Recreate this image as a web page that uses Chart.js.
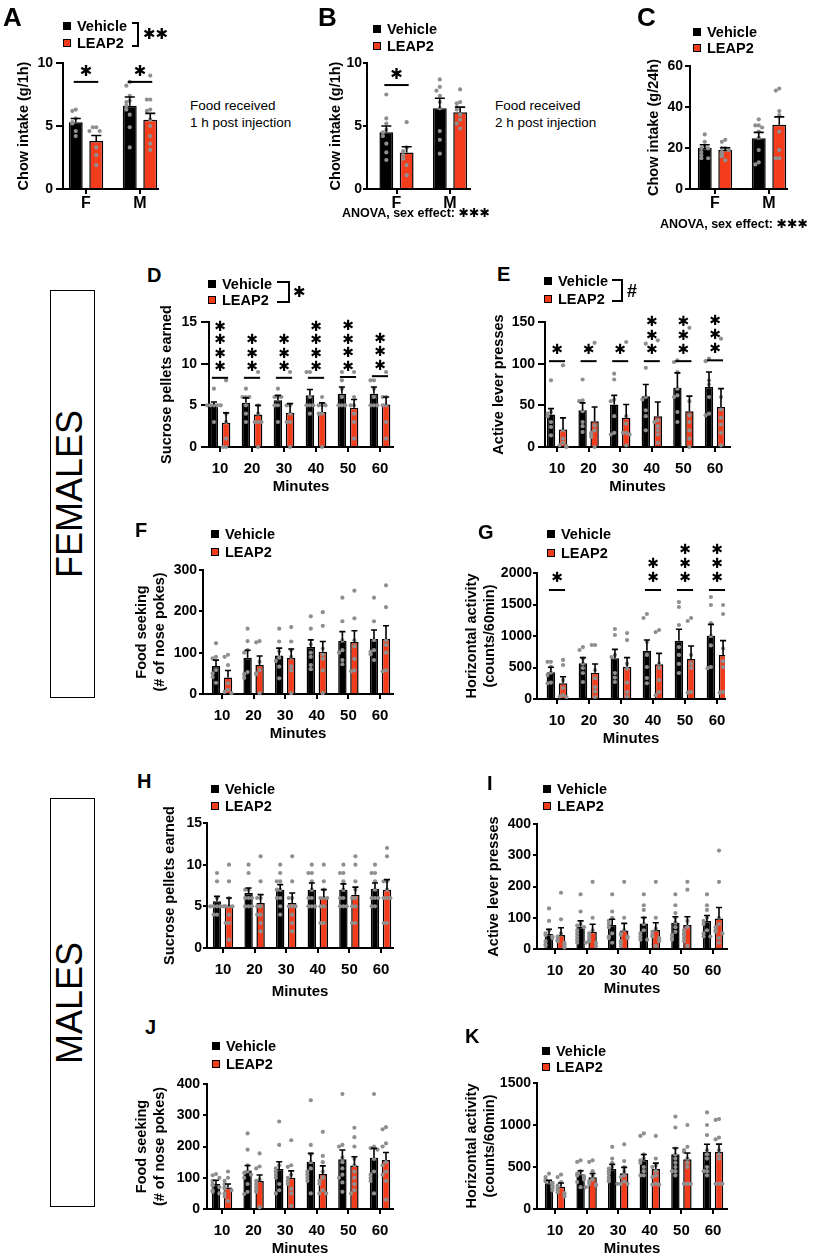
<!DOCTYPE html>
<html>
<head>
<meta charset="utf-8">
<script src="https://cdn.jsdelivr.net/npm/chart.js@4.4.1/dist/chart.umd.min.js"></script>
<style>
  body { margin: 0; background: #fff; }
  #page { position: relative; width: 816px; height: 1257px; overflow: hidden;
          font-family: "Liberation Sans", Arial, Helvetica, sans-serif; color: #000; }
  .abs { position: absolute; white-space: nowrap; }
  .lg { font-weight: bold; font-size: 14.5px; line-height: 20px; height: 20px; }
  .sq { width: 8px; height: 8px; background: #000; box-sizing: border-box; }
  .sq.red { background: #f23c1c; border: 1.5px solid #000; }
  .note { font-size: 13.5px; line-height: 17px; }
  .anova { font-weight: bold; font-size: 12.5px; line-height: 16px; }
  .star { font-family: "DejaVu Sans", sans-serif; font-weight: bold; }
  .side { border: 1.5px solid #000; box-sizing: border-box; }
  .sideText { font-size: 36px; line-height: 36px; transform: translate(-50%, -50%) rotate(-90deg); }
  canvas { position: absolute; }
</style>
</head>
<body>
<div id="page"></div>
<script>
// ---------- data ----------
const sexGroups = ["F", "M"];
const minutes = ["10", "20", "30", "40", "50", "60"];

// A: chow intake, 1 h
const aTicks = [0, 5, 10];
const aVehMean = [5.3, 6.6];
const aVehSem = [0.3, 0.7];
const aLeapMean = [3.8, 5.5];
const aLeapSem = [0.45, 0.5];
const aVehPts = [[6.3, 6.2, 5.6, 5.3, 5.2, 4.6, 4.2], [8.5, 8.2, 7.4, 7.0, 6.9, 6.6, 6.3, 5.9, 4.9, 3.3]];
const aLeapPts = [[4.9, 4.9, 4.6, 4.6, 3.3, 2.7, 1.9], [9.0, 7.1, 7.1, 6.3, 6.2, 5.5, 5.0, 4.2, 3.6, 3.1]];
const aSigY = [8.5, 8.5];
const aSigStars = [1, 1];

// B: chow intake, food 2 h post injection
const bTicks = [0, 5, 10];
const bVehMean = [4.5, 6.4];
const bVehSem = [0.5, 0.8];
const bLeapMean = [2.9, 6.1];
const bLeapSem = [0.45, 0.4];
const bVehPts = [[7.5, 5.6, 5.2, 4.7, 4.5, 4.2, 3.6, 2.9, 2.3], [8.7, 8.1, 7.8, 7.4, 6.9, 6.4, 4.6, 3.9, 2.8]];
const bLeapPts = [[5.3, 3.3, 3.0, 2.7, 2.4, 1.9, 1.1], [7.9, 6.9, 6.8, 6.5, 6.3, 5.9, 5.5, 5.2, 4.8]];
const bSigY = [8.25, 0];
const bSigStars = [1, 0];

// C: chow intake, 24 h
const cTicks = [0, 20, 40, 60];
const cVehMean = [20, 24.8];
const cVehSem = [1.6, 2.8];
const cLeapMean = [19, 31.4];
const cLeapSem = [1.1, 3.8];
const cVehPts = [[26.6, 23, 21, 20, 19.8, 18, 16.4, 15, 15], [34, 31, 31, 30, 28, 25, 19, 13, 12]];
const cLeapPts = [[24, 23, 20, 20, 19, 18, 17, 16, 14], [49, 48, 38, 36, 28, 19, 15, 15]];

// D: females, sucrose pellets
const dTicks = [0, 5, 10, 15];
const dVehMean = [5.1, 5.3, 5.6, 6.2, 6.4, 6.4];
const dVehSem = [0.3, 0.6, 0.6, 0.7, 0.8, 0.8];
const dLeapMean = [2.9, 3.9, 4.1, 4.2, 4.7, 5.1];
const dLeapSem = [1.2, 1.1, 1.1, 1.1, 1.0, 0.9];
const dVehPts = [[7, 5, 5, 5, 5, 5, 3], [7, 6, 6, 6, 5, 4, 3], [7, 6, 6, 6, 5, 5, 3], [9, 9, 6, 5, 5, 5, 4], [9, 8, 7, 6, 5, 5, 5], [8, 8, 7, 6, 5, 5, 5]];
const dLeapPts = [[8, 4, 3, 1, 0, 0], [9, 5, 4, 3, 3, 3, 0], [9, 5, 5, 4, 3, 3, 0], [6, 5, 5, 5, 4, 4, 0], [9, 6, 5, 5, 4, 3, 1], [9, 6, 6, 5, 5, 3, 1]];
const dSigY = [8.3, 8.3, 8.3, 8.3, 8.4, 8.5];
const dSigStars = [4, 3, 3, 4, 4, 3];

// E: females, active lever presses
const eTicks = [0, 50, 100, 150];
const eVehMean = [39, 44, 51, 61, 71, 72];
const eVehSem = [7, 9, 11, 14, 18, 18];
const eLeapMean = [21, 31, 35, 37, 43, 48];
const eLeapSem = [14, 17, 16, 17, 18, 22];
const eVehPts = [[80, 42, 40, 37, 30, 24, 14], [81, 56, 55, 43, 30, 25, 18], [88, 81, 57, 55, 37, 17, 15], [124, 95, 60, 57, 44, 37, 20], [104, 102, 90, 70, 62, 60, 42, 30], [106, 103, 80, 75, 60, 40, 38]];
const eLeapPts = [[98, 20, 10, 5, 2, 1, 0], [125, 26, 20, 17, 15, 12, 0], [126, 37, 28, 17, 17, 15, 2], [128, 32, 30, 25, 20, 15, 5], [143, 55, 38, 30, 20, 10, 0], [130, 60, 45, 35, 27, 17, 2]];
const eSigY = [103, 103, 103, 103, 103, 104];
const eSigStars = [1, 1, 1, 3, 3, 3];

// F: females, food seeking
const fTicks = [0, 100, 200, 300];
const fVehMean = [68, 88, 93, 114, 128, 133];
const fVehSem = [14, 18, 18, 17, 23, 22];
const fLeapMean = [40, 70, 87, 102, 126, 133];
const fLeapSem = [17, 22, 22, 25, 27, 32];
const fVehPts = [[123, 90, 86, 58, 50, 41, 27], [158, 128, 106, 100, 53, 48, 39], [158, 127, 103, 88, 80, 66, 38], [188, 158, 120, 100, 90, 70, 60], [233, 176, 130, 106, 100, 82, 72], [233, 176, 130, 106, 102, 96, 82]];
const fLeapPts = [[95, 90, 70, 26, 10, 5, 2], [128, 125, 78, 58, 50, 48, 2], [162, 127, 106, 90, 67, 57, 2], [198, 165, 110, 95, 85, 57, 2], [250, 183, 130, 115, 85, 57, 55], [263, 210, 130, 119, 100, 57, 55]];

// G: females, horizontal activity
const gTicks = [0, 500, 1000, 1500, 2000];
const gVehMean = [423, 566, 645, 767, 926, 1005];
const gVehSem = [80, 90, 143, 170, 180, 180];
const gLeapMean = [249, 418, 513, 550, 635, 698];
const gLeapSem = [105, 137, 143, 175, 206, 228];
const gVehPts = [[590, 590, 510, 420, 380, 260, 250], [825, 778, 640, 560, 492, 413, 270], [1111, 1016, 700, 667, 413, 340, 270], [1349, 1286, 905, 700, 508, 333, 250], [1539, 1460, 1175, 825, 700, 556, 413], [1619, 1492, 1206, 1000, 850, 508, 490]];
const gLeapPts = [[620, 540, 300, 175, 60, 40, 30], [857, 857, 460, 330, 190, 120, 32], [1047, 936, 560, 480, 260, 111, 40], [1095, 1063, 560, 492, 300, 111, 60], [1286, 1238, 700, 560, 492, 111, 100], [1492, 1349, 800, 600, 508, 111, 100]];
const gSigY = [1730, 0, 0, 1730, 1730, 1730];
const gSigStars = [1, 0, 0, 2, 3, 3];

// H: males, sucrose pellets
const hTicks = [0, 5, 10, 15];
const hVehMean = [5.6, 6.6, 7.0, 7.0, 7.0, 7.1];
const hVehSem = [0.6, 0.6, 0.6, 0.8, 0.7, 0.7];
const hLeapMean = [5.0, 5.4, 5.4, 6.1, 6.4, 7.0];
const hLeapSem = [1.0, 1.0, 1.2, 0.9, 0.9, 1.2];
const hVehPts = [[9, 8, 6, 5, 5, 5, 5, 5, 4, 4], [10, 9, 7, 7, 6, 6, 6, 5, 5, 5], [10, 9, 8, 8, 7, 7, 6, 6, 5, 4], [10, 9, 9, 8, 7, 6, 6, 5, 5, 5], [10, 9, 9, 8, 7, 6, 6, 5, 5, 5], [10, 9, 9, 8, 7, 6, 6, 6, 5, 5]];
const hLeapPts = [[10, 8, 6, 5, 5, 5, 4, 3, 3, 1], [11, 8, 6, 6, 5, 5, 4, 4, 3, 2], [11, 8, 6, 6, 5, 5, 5, 4, 3, 2], [10, 8, 7, 6, 6, 6, 5, 5, 3, 3], [11, 10, 8, 7, 6, 6, 5, 5, 3, 3], [12, 11, 8, 8, 7, 6, 6, 6, 3, 3]];

// I: males, active lever presses
const iTicks = [0, 100, 200, 300, 400];
const iVehMean = [48, 71, 77, 82, 84, 90];
const iVehSem = [15, 19, 18, 19, 19, 17];
const iLeapMean = [45, 55, 59, 61, 77, 98];
const iLeapSem = [23, 24, 23, 23, 26, 35];
const iVehPts = [[130, 90, 60, 50, 45, 40, 35, 25, 15, 10], [175, 120, 80, 75, 70, 60, 50, 40, 30, 20], [175, 120, 100, 90, 80, 70, 50, 40, 35, 20], [175, 140, 125, 100, 80, 60, 50, 40, 30, 30], [175, 140, 115, 100, 85, 70, 55, 45, 35, 30], [175, 140, 125, 100, 90, 80, 60, 50, 40, 40]];
const iLeapPts = [[180, 95, 50, 40, 30, 25, 20, 15, 10, 5], [215, 100, 60, 50, 40, 30, 25, 20, 20, 10], [215, 100, 60, 50, 45, 40, 35, 25, 20, 10], [215, 100, 65, 55, 45, 40, 35, 30, 25, 10], [215, 190, 90, 70, 60, 50, 45, 35, 25, 10], [315, 215, 100, 80, 70, 60, 55, 50, 35, 20]];

// J: males, food seeking
const jTicks = [0, 100, 200, 300, 400];
const jVehMean = [80, 123, 128, 151, 159, 164];
const jVehSem = [12, 16, 23, 27, 30, 30];
const jLeapMean = [69, 90, 100, 112, 139, 157];
const jLeapSem = [11, 19, 22, 26, 28, 24];
const jVehPts = [[112, 108, 100, 90, 80, 75, 70, 60, 55, 50], [242, 190, 140, 120, 115, 110, 100, 80, 55, 48], [280, 205, 140, 130, 120, 110, 100, 80, 60, 50], [348, 205, 175, 150, 130, 120, 110, 100, 90, 50], [368, 205, 200, 165, 150, 130, 110, 100, 85, 55], [368, 200, 195, 190, 160, 120, 110, 100, 90, 50]];
const jLeapPts = [[120, 100, 90, 80, 70, 65, 60, 50, 40, 25], [178, 136, 130, 95, 90, 80, 70, 60, 55, 6], [220, 140, 135, 110, 100, 90, 80, 65, 50, 10], [247, 170, 150, 120, 100, 90, 80, 60, 50, 50], [260, 230, 200, 160, 140, 120, 100, 80, 60, 50], [262, 255, 210, 200, 150, 140, 120, 110, 90, 30]];

// K: males, horizontal activity
const kTicks = [0, 500, 1000, 1500];
const kVehMean = [306, 415, 476, 583, 651, 682];
const kVehSem = [35, 40, 55, 65, 75, 88];
const kLeapMean = [265, 377, 425, 476, 591, 682];
const kLeapSem = [45, 45, 70, 70, 75, 90];
const kVehPts = [[420, 380, 350, 330, 310, 300, 280, 260, 250, 220], [580, 560, 450, 420, 400, 390, 370, 350, 320, 260], [740, 600, 550, 500, 480, 450, 420, 380, 350, 330], [900, 870, 650, 600, 580, 550, 500, 450, 400, 400], [1100, 970, 720, 650, 600, 550, 500, 450, 450, 400], [1150, 1000, 880, 700, 650, 600, 500, 450, 450, 400]];
const kLeapPts = [[410, 380, 320, 280, 250, 230, 200, 190, 180, 150], [580, 560, 450, 400, 350, 330, 300, 290, 280, 260], [770, 570, 500, 450, 400, 380, 330, 300, 300, 300], [870, 600, 520, 500, 450, 400, 380, 300, 290, 290], [1000, 740, 700, 680, 600, 550, 500, 300, 300, 300], [1070, 1060, 850, 830, 700, 650, 600, 300, 300, 300]];

// ---------- style ----------
const RED = "#f23c1c";
const GRAY = "#8f8f8f";
const STAR = "\u2731";

Chart.defaults.font.family = "'Liberation Sans', Arial, Helvetica, sans-serif";
Chart.defaults.color = "#000";

const page = document.getElementById("page");

function el(cls, css, html) {
  const d = document.createElement("div");
  d.className = "abs " + (cls || "");
  Object.assign(d.style, css);
  if (html != null) d.innerHTML = html;
  page.appendChild(d);
  return d;
}
const px = v => v + "px";

function letter(ch, x, capTop, size) {
  el("", { left: px(x), top: px(capTop - 0.13 * size), fontSize: px(size), lineHeight: px(size), fontWeight: "bold" }, ch);
}

function legend(x, y1, y2) {
  el("sq", { left: px(x), top: px(y1 - 4) });
  el("sq red", { left: px(x), top: px(y2 - 4) });
  el("lg", { left: px(x + 14), top: px(y1 - 10) }, "Vehicle");
  el("lg", { left: px(x + 14), top: px(y2 - 10) }, "LEAP2");
}

function bracket(x0, x1, y0, y1, markHtml, markX, markY, markSize, markCls) {
  el("", { left: px(x0), top: px(y0), width: px(x1 - x0), height: px(y1 - y0),
           borderTop: "2px solid #000", borderRight: "2px solid #000", borderBottom: "2px solid #000",
           boxSizing: "border-box" });
  el(markCls || "", { left: px(markX), top: px(markY - 10), lineHeight: "20px", fontSize: px(markSize), fontWeight: "bold" }, markHtml);
}

// spread dots that sit at similar heights, like a scatter dot plot
function swarm(vals, center, yPerPx, xPerPx) {
  const placed = [];
  vals.slice().sort((a, b) => b - a).forEach(v => {
    const k = placed.filter(p => Math.abs(p.y - v) < 4 * yPerPx).length;
    const side = k === 0 ? 0 : (k % 2 ? -1 : 1) * Math.ceil(k / 2);
    placed.push({ x: center + side * 3.4 * xPerPx, y: v });
  });
  return placed;
}

// error bars (mean + SEM, upward) drawn from the bar elements
const errorBars = {
  id: "errorBars",
  afterDatasetsDraw(chart) {
    const ctx = chart.ctx, y = chart.scales.y;
    chart.data.datasets.forEach((ds, di) => {
      if (!ds.sem) return;
      chart.getDatasetMeta(di).data.forEach((bar, i) => {
        const top = y.getPixelForValue(ds.data[i].y + ds.sem[i]);
        const w = Math.max(3, bar.width * 0.36);
        ctx.save();
        ctx.strokeStyle = "#000";
        ctx.lineWidth = 1.6;
        ctx.beginPath();
        ctx.moveTo(bar.x, bar.y);
        ctx.lineTo(bar.x, top);
        ctx.moveTo(bar.x - w, top);
        ctx.lineTo(bar.x + w, top);
        ctx.stroke();
        ctx.restore();
      });
    });
  }
};

// significance lines with stacked stars
const sigMarks = {
  id: "sigMarks",
  afterDatasetsDraw(chart, args, opts) {
    if (!opts.stars) return;
    const ctx = chart.ctx, y = chart.scales.y;
    const m0 = chart.getDatasetMeta(0), m1 = chart.getDatasetMeta(1);
    opts.stars.forEach((n, i) => {
      if (!n) return;
      const x0 = m0.data[i].x - 2, x1 = m1.data[i].x + 2;
      const ly = y.getPixelForValue(opts.lineY[i]);
      ctx.save();
      ctx.strokeStyle = "#000";
      ctx.lineWidth = 2;
      ctx.beginPath();
      ctx.moveTo(x0, ly);
      ctx.lineTo(x1, ly);
      ctx.stroke();
      ctx.fillStyle = "#000";
      ctx.font = "bold " + opts.size + "px 'DejaVu Sans'";
      ctx.textAlign = "center";
      ctx.textBaseline = "middle";
      for (let k = 0; k < n; k++) {
        ctx.fillText(STAR, (x0 + x1) / 2, ly - opts.gap - k * opts.step);
      }
      ctx.restore();
    });
  }
};

function makePanel(p) {
  const g = p.geo;
  const lh = 18;
  const canvasL = Math.round(g.titleX - lh / 2 - 3);
  const yW = g.plotL - canvasL;
  const topPad = 32, rightPad = 16;
  const xH = p.xTitle ? (g.titleOff || 40) + lh / 2 + 2 : 28;
  const cw = Math.round(g.plotR - canvasL + rightPad);
  const ch = Math.round(topPad + (g.plotB - g.plotT) + xH);
  const n = p.cats.length;
  const catPx = (g.tickN - g.tick0) / (n - 1);
  const xMin = -(g.tick0 - g.plotL) / catPx;
  const xMax = (n - 1) + (g.plotR - g.tickN) / catPx;
  const yMax = p.ticks[p.ticks.length - 1];
  const yPerPx = yMax / (g.plotB - g.plotT);
  const half = g.cp / 4;

  const cv = document.createElement("canvas");
  cv.width = cw;
  cv.height = ch;
  cv.style.left = px(canvasL);
  cv.style.top = px(g.plotT - topPad);
  page.appendChild(cv);

  const dotData = (pts, sign) => pts.flatMap((vals, i) => swarm(vals, i + sign * half, yPerPx, 1 / catPx));
  const xFont = { size: g.xFont || 15, weight: "bold" };

  new Chart(cv, {
    type: "bar",
    data: {
      datasets: [
        { type: "bar", label: "Vehicle", data: p.vehMean.map((v, i) => ({ x: i, y: v })), sem: p.vehSem,
          backgroundColor: "#000", borderColor: "#000", borderWidth: 1.5, order: 2,
          categoryPercentage: g.cp, barPercentage: g.bp },
        { type: "bar", label: "LEAP2", data: p.leapMean.map((v, i) => ({ x: i, y: v })), sem: p.leapSem,
          backgroundColor: RED, borderColor: "#000", borderWidth: 1.5, order: 2,
          categoryPercentage: g.cp, barPercentage: g.bp },
        { type: "scatter", data: dotData(p.vehPts, -1), pointRadius: 2.1, pointBorderWidth: 0,
          pointBackgroundColor: GRAY, order: 1, clip: false },
        { type: "scatter", data: dotData(p.leapPts, 1), pointRadius: 2.1, pointBorderWidth: 0,
          pointBackgroundColor: GRAY, order: 1, clip: false }
      ]
    },
    options: {
      responsive: false,
      animation: false,
      events: [],
      layout: { padding: { left: 0, top: topPad, right: rightPad, bottom: 0 } },
      plugins: {
        legend: { display: false },
        tooltip: { enabled: false },
        sigMarks: p.sig || {}
      },
      scales: {
        x: {
          type: "linear", bounds: "data", offset: false, min: xMin, max: xMax,
          afterBuildTicks: ax => { ax.ticks = p.cats.map((c, i) => ({ value: i })); },
          afterFit: ax => { ax.height = xH; },
          ticks: { callback: v => p.cats[Math.round(v)], font: xFont, color: "#000",
                   padding: g.xpad != null ? g.xpad : 7.5, autoSkip: false, maxRotation: 0, minRotation: 0 },
          grid: { display: true, drawOnChartArea: false, drawTicks: true, tickLength: 5,
                  color: "#000", lineWidth: 2, offset: false },
          border: { display: true, color: "#000", width: 2 },
          title: p.xTitle ? { display: true, text: p.xTitle, color: "#000",
                              font: { size: 15, weight: "bold", lineHeight: 1.2 }, padding: { top: 0, bottom: 2 } }
                          : { display: false }
        },
        y: {
          type: "linear", min: 0, max: yMax, offset: false,
          afterBuildTicks: ax => { ax.ticks = p.ticks.map(v => ({ value: v })); },
          afterFit: ax => { ax.width = yW; },
          ticks: { callback: v => String(v), font: { size: 14, weight: "bold" }, color: "#000", padding: g.ypad },
          grid: { display: true, drawOnChartArea: false, drawTicks: true, tickLength: g.ytl,
                  color: "#000", lineWidth: 2 },
          border: { display: true, color: "#000", width: 2 },
          title: { display: true, text: p.yTitle, color: "#000",
                   font: { size: 14.5, weight: "bold", lineHeight: 1.25 }, padding: { top: 3, bottom: 0 } }
        }
      }
    },
    plugins: [errorBars, sigMarks]
  });
}

const sexGeo = { cp: 0.76, bp: 0.68, xFont: 16, xpad: 0 };
const minGeo = { cp: 0.76, bp: 0.7 };

const panels = [
  { cats: sexGroups, ticks: aTicks, vehMean: aVehMean, vehSem: aVehSem, leapMean: aLeapMean, leapSem: aLeapSem,
    vehPts: aVehPts, leapPts: aLeapPts, yTitle: "Chow intake (g/1h)",
    sig: { stars: aSigStars, lineY: aSigY, gap: 10, step: 13, size: 15 },
    geo: Object.assign({ plotL: 63, plotR: 158, plotT: 63, plotB: 189, tick0: 86, tickN: 140, titleX: 24, ytl: 7, ypad: 3 }, sexGeo) },
  { cats: sexGroups, ticks: bTicks, vehMean: bVehMean, vehSem: bVehSem, leapMean: bLeapMean, leapSem: bLeapSem,
    vehPts: bVehPts, leapPts: bLeapPts, yTitle: "Chow intake (g/1h)",
    sig: { stars: bSigStars, lineY: bSigY, gap: 10, step: 13, size: 15 },
    geo: Object.assign({ plotL: 367, plotR: 470, plotT: 63, plotB: 189, tick0: 396.5, tickN: 450, titleX: 336, ytl: 4, ypad: 1 }, sexGeo) },
  { cats: sexGroups, ticks: cTicks, vehMean: cVehMean, vehSem: cVehSem, leapMean: cLeapMean, leapSem: cLeapSem,
    vehPts: cVehPts, leapPts: cLeapPts, yTitle: "Chow intake (g/24h)",
    geo: Object.assign({ plotL: 690, plotR: 787, plotT: 66, plotB: 189, tick0: 715, tickN: 769, titleX: 654, ytl: 5, ypad: 2 }, sexGeo) },
  { cats: minutes, ticks: dTicks, vehMean: dVehMean, vehSem: dVehSem, leapMean: dLeapMean, leapSem: dLeapSem,
    vehPts: dVehPts, leapPts: dLeapPts, yTitle: "Sucrose pellets earned", xTitle: "Minutes",
    sig: { stars: dSigStars, lineY: dSigY, gap: 10, step: 13.5, size: 14 },
    geo: Object.assign({ plotL: 209, plotR: 393, plotT: 322, plotB: 447, tick0: 220, tickN: 380, titleX: 167, ytl: 8, ypad: 4 }, minGeo) },
  { cats: minutes, ticks: eTicks, vehMean: eVehMean, vehSem: eVehSem, leapMean: eLeapMean, leapSem: eLeapSem,
    vehPts: eVehPts, leapPts: eLeapPts, yTitle: "Active lever presses", xTitle: "Minutes",
    sig: { stars: eSigStars, lineY: eSigY, gap: 11, step: 14, size: 14 },
    geo: Object.assign({ plotL: 545, plotR: 730, plotT: 322, plotB: 447, tick0: 557, tickN: 715, titleX: 499, ytl: 7, ypad: 3 }, minGeo) },
  { cats: minutes, ticks: fTicks, vehMean: fVehMean, vehSem: fVehSem, leapMean: fLeapMean, leapSem: fLeapSem,
    vehPts: fVehPts, leapPts: fLeapPts, yTitle: ["Food seeking", "(# of nose pokes)"], xTitle: "Minutes",
    geo: Object.assign({ plotL: 203, plotR: 393, plotT: 570, plotB: 694, tick0: 222, tickN: 380, titleX: 142, ytl: 4, ypad: 2 }, minGeo) },
  { cats: minutes, ticks: gTicks, vehMean: gVehMean, vehSem: gVehSem, leapMean: gLeapMean, leapSem: gLeapSem,
    vehPts: gVehPts, leapPts: gLeapPts, yTitle: ["Horizontal activity", "(counts/60min)"], xTitle: "Minutes",
    sig: { stars: gSigStars, lineY: gSigY, gap: 12, step: 14, size: 14 },
    geo: Object.assign({ plotL: 537, plotR: 725, plotT: 573, plotB: 699, tick0: 557, tickN: 717, titleX: 472, ytl: 4, ypad: 1 }, minGeo) },
  { cats: minutes, ticks: hTicks, vehMean: hVehMean, vehSem: hVehSem, leapMean: hLeapMean, leapSem: hLeapSem,
    vehPts: hVehPts, leapPts: hLeapPts, yTitle: "Sucrose pellets earned", xTitle: "Minutes",
    geo: Object.assign({ plotL: 207, plotR: 393, plotT: 823, plotB: 948, tick0: 223, tickN: 381, titleX: 170, ytl: 4, ypad: 1, titleOff: 44 }, minGeo) },
  { cats: minutes, ticks: iTicks, vehMean: iVehMean, vehSem: iVehSem, leapMean: iLeapMean, leapSem: iLeapSem,
    vehPts: iVehPts, leapPts: iLeapPts, yTitle: "Active lever presses", xTitle: "Minutes",
    geo: Object.assign({ plotL: 537, plotR: 727, plotT: 824, plotB: 949, tick0: 555, tickN: 713, titleX: 494, ytl: 4, ypad: 2 }, minGeo) },
  { cats: minutes, ticks: jTicks, vehMean: jVehMean, vehSem: jVehSem, leapMean: jLeapMean, leapSem: jLeapSem,
    vehPts: jVehPts, leapPts: jLeapPts, yTitle: ["Food seeking", "(# of nose pokes)"], xTitle: "Minutes",
    geo: Object.assign({ plotL: 207, plotR: 393, plotT: 1084, plotB: 1209, tick0: 222, tickN: 380, titleX: 142, ytl: 4, ypad: 3 }, minGeo) },
  { cats: minutes, ticks: kTicks, vehMean: kVehMean, vehSem: kVehSem, leapMean: kLeapMean, leapSem: kLeapSem,
    vehPts: kVehPts, leapPts: kLeapPts, yTitle: ["Horizontal activity", "(counts/60min)"], xTitle: "Minutes",
    geo: Object.assign({ plotL: 537, plotR: 727, plotT: 1083, plotB: 1209, tick0: 555, tickN: 713, titleX: 472, ytl: 4, ypad: 2 }, minGeo) }
];

panels.forEach(makePanel);

// ---------- panel letters, legends, notes ----------
letter("A", 3, 7, 26);
letter("B", 318, 7, 26);
letter("C", 637, 7, 26);
letter("D", 147, 268, 20);
letter("E", 497, 267, 20);
letter("F", 135, 523, 20);
letter("G", 478, 525, 20);
letter("H", 137, 774, 20);
letter("I", 487, 776, 20);
letter("J", 145, 1020, 20);
letter("K", 465, 1029, 20);

legend(63, 26, 43);
legend(373, 29, 46);
legend(693, 32, 48);
legend(208, 284, 300);
legend(544, 281, 299);
legend(211, 534, 552);
legend(547, 534, 553);
legend(211, 789, 806);
legend(543, 789, 806);
legend(212, 1046, 1064);
legend(542, 1051, 1067);

bracket(132, 139, 22, 47, STAR + STAR, 143, 34, 15, "star");
bracket(277, 290, 281, 303, STAR, 293, 292, 15, "star");
bracket(612, 623, 279, 302, "#", 627, 291, 18, "");

el("note", { left: "190px", top: "96.5px" }, "Food received<br>1 h post injection");
el("note", { left: "495px", top: "96.5px" }, "Food received<br>2 h post injection");
el("anova", { left: "342px", top: "205px" }, 'ANOVA, sex effect: <span class="star">' + STAR + STAR + STAR + "</span>");
el("anova", { left: "660px", top: "216px" }, 'ANOVA, sex effect: <span class="star">' + STAR + STAR + STAR + "</span>");

el("side", { left: "50px", top: "290px", width: "45px", height: "408px" });
el("side", { left: "50px", top: "798px", width: "45px", height: "409px" });
el("sideText", { left: "70px", top: "494px" }, "FEMALES");
el("sideText", { left: "70px", top: "1003px" }, "MALES");
</script>
</body>
</html>
